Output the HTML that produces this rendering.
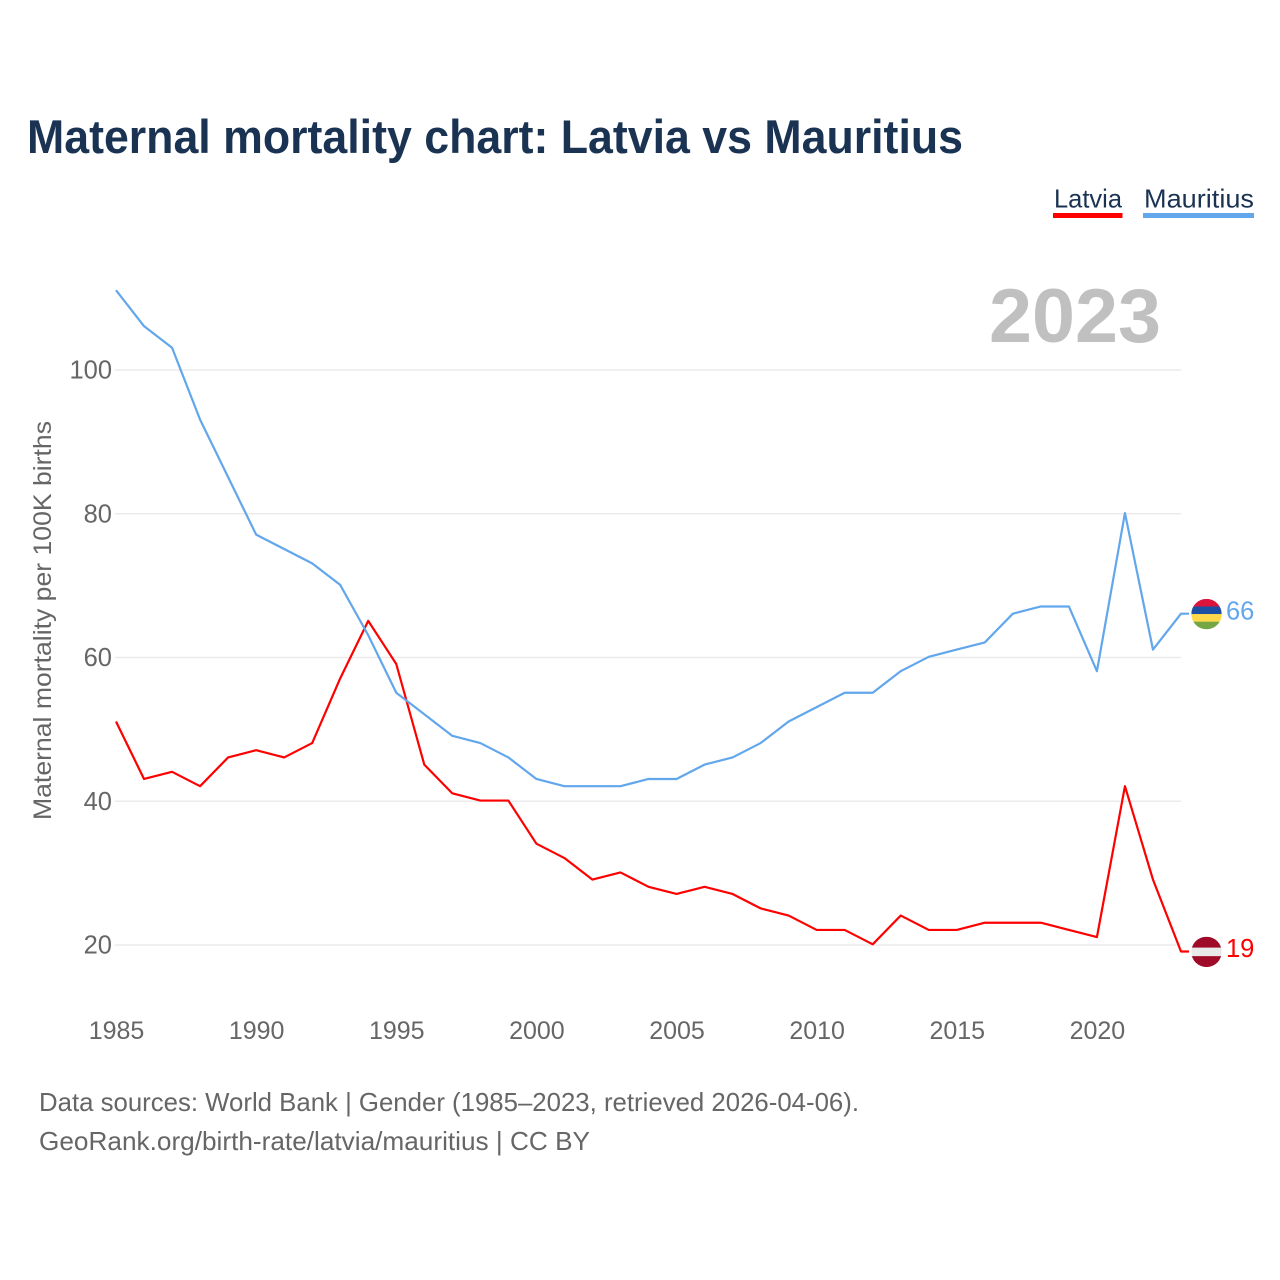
<!DOCTYPE html>
<html lang="en">
<head>
<meta charset="utf-8">
<title>Maternal mortality chart: Latvia vs Mauritius</title>
<style>
html,body{margin:0;padding:0;background:#fff;}
svg{display:block;font-family:"Liberation Sans",sans-serif;}
</style>
</head>
<body>
<svg id="chart" xmlns="http://www.w3.org/2000/svg" width="1280" height="1280" viewBox="0 0 1280 1280">
  <rect width="1280" height="1280" fill="#fff"/>
  <text x="27" y="153" font-size="47" font-weight="700" fill="#1a3353" textLength="936" lengthAdjust="spacingAndGlyphs">Maternal mortality chart: Latvia vs Mauritius</text>
  <g>
    <g>
      <text x="1054" y="207.500" font-size="26" fill="#1a3353" textLength="68" lengthAdjust="spacingAndGlyphs">Latvia</text>
      <rect x="1053" y="213" width="69.500" height="5" fill="#ff0000"/>
    </g>
    <g>
      <text x="1144" y="207.500" font-size="26" fill="#1a3353" textLength="110" lengthAdjust="spacingAndGlyphs">Mauritius</text>
      <rect x="1143" y="213" width="111" height="5" fill="#62a6ec"/>
    </g>
  </g>
  <text x="989" y="342" font-size="76" font-weight="700" fill="#c0c0c0" textLength="172" lengthAdjust="spacingAndGlyphs">2023</text>
  <g id="grid"></g>
  <g id="yticks"></g>
  <g id="xticks"></g>
  <text transform="translate(51,820) rotate(-90)" font-size="25" fill="#666" textLength="399" lengthAdjust="spacingAndGlyphs">Maternal mortality per 100K births</text>
  <g id="series" transform="translate(0,-0.7)"></g>
  <g id="ends"></g>
  <text x="39" y="1111" font-size="26" fill="#666" textLength="820" lengthAdjust="spacingAndGlyphs">Data sources: World Bank | Gender (1985–2023, retrieved 2026-04-06).</text>
  <text x="39" y="1150" font-size="26" fill="#666" textLength="551" lengthAdjust="spacingAndGlyphs">GeoRank.org/birth-rate/latvia/mauritius | CC BY</text>
</svg>
<script>
const startYear = 1985;
const years = [1985,1986,1987,1988,1989,1990,1991,1992,1993,1994,1995,1996,1997,1998,1999,2000,2001,2002,2003,2004,2005,2006,2007,2008,2009,2010,2011,2012,2013,2014,2015,2016,2017,2018,2019,2020,2021,2022,2023];
const latvia = [51,43,44,42,46,47,46,48,57,65,59,45,41,40,40,34,32,29,30,28,27,28,27,25,24,22,22,20,24,22,22,23,23,23,22,21,42,29,19];
const mauritius = [111,106,103,93,85,77,75,73,70,63,55,52,49,48,46,43,42,42,42,43,43,45,46,48,51,53,55,55,58,60,61,62,66,67,67,58,80,61,66];
const yTicks = [20,40,60,80,100];
const xTicks = [1985,1990,1995,2000,2005,2010,2015,2020];

const NS = 'http://www.w3.org/2000/svg';
function xScale(year) { return 116 + (year - startYear) * (1181 - 116) / 38; }
function yScale(value) { return 945 - (value - 20) * (945 - 370) / 80; }
function make(tag, attrs, parent, text) {
  const el = document.createElementNS(NS, tag);
  for (const k in attrs) el.setAttribute(k, attrs[k]);
  if (text !== undefined) el.textContent = text;
  parent.appendChild(el);
  return el;
}

const grid = document.getElementById('grid');
const yG = document.getElementById('yticks');
const xG = document.getElementById('xticks');
const seriesG = document.getElementById('series');
const endsG = document.getElementById('ends');

yTicks.forEach(function (t) {
  const line = make('line', {x1: 115, x2: 1181, y1: yScale(t), y2: yScale(t), stroke: '#ebebeb', 'stroke-width': 1.5}, grid);
  
  
  const label = make('text', {x: 112, y: yScale(t) + 8.5, 'text-anchor': 'end', 'font-size': 25.5, fill: '#666'}, yG, String(t));
  
  
});

xTicks.forEach(function (t) {
  const label = make('text', {x: xScale(t) + 0.5, y: 1039, 'text-anchor': 'middle', 'font-size': 25, fill: '#666'}, xG, String(t));
  
  
});

function drawSeries(name, values, color) {
  const pts = values.map(function (v, i) { return xScale(years[i]) + ',' + yScale(v); });
  const last = values[values.length - 1];
  const lastX = xScale(years[years.length - 1]);
  pts.push((lastX + 8) + ',' + yScale(last));
  const line = make('polyline', {points: pts.join(' '), fill: 'none', stroke: color, 'stroke-width': 2.2, 'stroke-linejoin': 'round'}, seriesG);
  
  
  const label = make('text', {x: 1226, y: yScale(last) + (name === 'latvia' ? 5 : 5), 'font-size': 25.5, fill: color}, endsG, String(last));
  
  
}
drawSeries('latvia', latvia, '#ff0000');
drawSeries('mauritius', mauritius, '#62a6ec');

function drawFlag(name, value, stripes) {
  const cx = 1206.500;
  const cy = yScale(value) - 0.3;
  const r = 15.2;
  const clip = make('clipPath', {id: 'clip-' + name}, endsG);
  make('circle', {cx: cx, cy: cy, r: r}, clip);
  const flag = make('g', {'clip-path': 'url(#clip-' + name + ')'}, endsG);
  
  
  let top = cy - r;
  stripes.forEach(function (s) {
    const h = s[1] * 2 * r;
    make('rect', {x: cx - r, y: top, width: 2 * r, height: h + 0.2, fill: s[0]}, flag);
    top += h;
  });
}
drawFlag('latvia', latvia[latvia.length - 1], [['#9e0a28', 0.36], ['#e9e9e9', 0.28], ['#9e0a28', 0.36]]);
drawFlag('mauritius', mauritius[mauritius.length - 1], [['#dc143c', 0.25], ['#1a4fa3', 0.25], ['#ffd94a', 0.25], ['#74a744', 0.25]]);
</script>
</body>
</html>
